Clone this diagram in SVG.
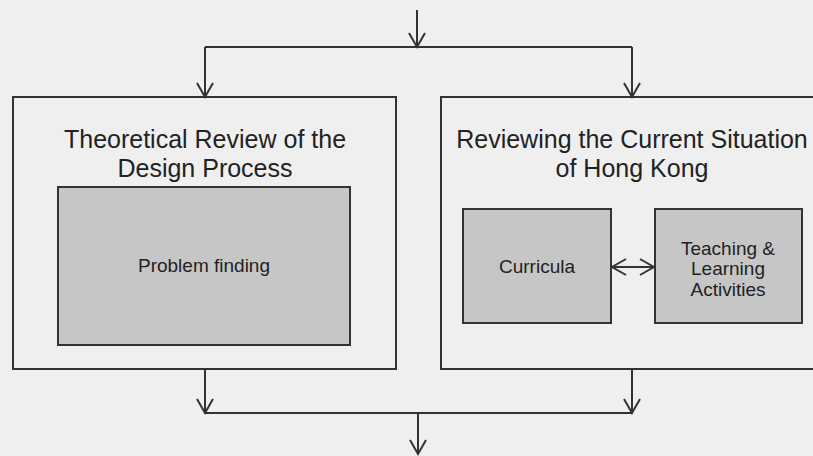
<svg xmlns="http://www.w3.org/2000/svg" width="813" height="456" viewBox="0 0 813 456">
  <style>
    .frame { fill: none; stroke: #333; stroke-width: 2; }
    .box { fill: #c6c6c6; stroke: #333; stroke-width: 2; }
    .wire { fill: none; stroke: #333; stroke-width: 2; }
    .title { font-family: "Liberation Sans", Arial, sans-serif; font-size: 25px; fill: #222; text-anchor: middle; }
    .label { font-family: "Liberation Sans", Arial, sans-serif; font-size: 19px; fill: #222; text-anchor: middle; }
  </style>
  <defs>
    <!-- open chevron arrowhead, shared by every connector -->
    <marker id="head" markerWidth="18" markerHeight="20" refX="15" refY="10" orient="auto-start-reverse" markerUnits="userSpaceOnUse">
      <path d="M1,2 L15,10 L1,18" fill="none" stroke="#333" stroke-width="2"/>
    </marker>
  </defs>
  <rect width="813" height="456" fill="#efefef"/>

  <g id="connectors">
    <line class="wire" x1="417" y1="10" x2="417" y2="47" marker-end="url(#head)"/>
    <line class="wire" x1="205" y1="47" x2="632" y2="47"/>
    <line class="wire" x1="205" y1="47" x2="205" y2="97" marker-end="url(#head)"/>
    <line class="wire" x1="632" y1="47" x2="632" y2="97" marker-end="url(#head)"/>
    <line class="wire" x1="205" y1="369" x2="205" y2="413" marker-end="url(#head)"/>
    <line class="wire" x1="632" y1="369" x2="632" y2="413" marker-end="url(#head)"/>
    <line class="wire" x1="205" y1="413" x2="632" y2="413"/>
    <line class="wire" x1="418" y1="413" x2="418" y2="454" marker-end="url(#head)"/>
    <line class="wire" x1="612" y1="267" x2="654" y2="267" marker-start="url(#head)" marker-end="url(#head)"/>
  </g>

  <g id="theory">
    <rect class="frame" x="13" y="97" width="383" height="272"/>
    <text class="title" x="205" y="148">Theoretical Review of the</text>
    <text class="title" x="205" y="177">Design Process</text>
  </g>
  <g id="problem-finding">
    <rect class="box" x="58" y="187" width="292" height="158"/>
    <text class="label" x="204" y="272">Problem finding</text>
  </g>

  <g id="current-situation">
    <rect class="frame" x="441" y="97" width="382" height="272"/>
    <text class="title" x="632" y="148">Reviewing the Current Situation</text>
    <text class="title" x="632" y="177">of Hong Kong</text>
  </g>
  <g id="curricula">
    <rect class="box" x="463" y="209" width="148" height="114"/>
    <text class="label" x="537" y="273">Curricula</text>
  </g>
  <g id="teaching">
    <rect class="box" x="655" y="209" width="147" height="114"/>
    <text class="label" x="728" y="255">Teaching &amp;</text>
    <text class="label" x="728" y="275">Learning</text>
    <text class="label" x="728" y="296">Activities</text>
  </g>
</svg>
